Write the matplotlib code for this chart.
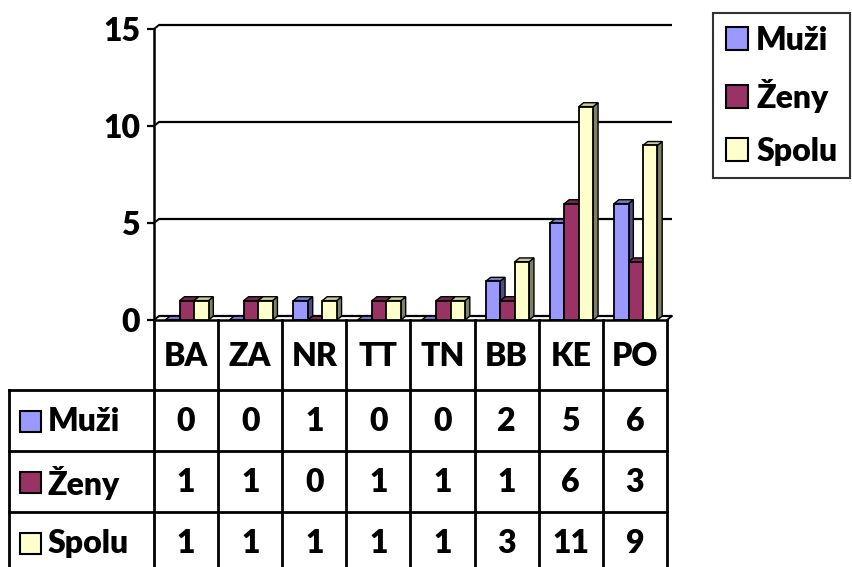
import numpy as np
import matplotlib
matplotlib.use("Agg")
import matplotlib.pyplot as plt
from matplotlib.patches import Polygon, Rectangle, Patch

# data
regions = ["BA", "ZA", "NR", "TT", "TN", "BB", "KE", "PO"]
muzi = [0, 0, 1, 0, 0, 2, 5, 6]
zeny = [1, 1, 0, 1, 1, 1, 6, 3]
spolu = [1, 1, 1, 1, 1, 3, 11, 9]
series_names = ["Muži", "Ženy", "Spolu"]
yticks = [0, 5, 10, 15]

front_colors = ["#9999FF", "#993366", "#FFFFCC"]
top_colors = ["#7A7ACC", "#7A2952", "#CCCCA3"]
side_colors = ["#4D4D80", "#4D1A33", "#808066"]

plt.rcParams['font.family'] = ['Lato', 'DejaVu Sans']
plt.rcParams['font.weight'] = 'heavy'
FS = 23
FW = "heavy"

W, H = 853, 567
fig = plt.figure(figsize=(W / 100, H / 100), dpi=100)

# layout in pixels
PL, PR, PB, PT = 154, 667, 320, 29
ax = fig.add_axes([PL / W, 1 - PB / H, (PR - PL) / W, (PB - PT) / H])
ax.set_xlim(0, len(regions))
ax.set_ylim(0, 15)

dx, dy = 0.075, 0.2  # 3d depth in data units
bw, b0 = 0.225, 0.175

# back wall gridlines and floor
for y in yticks:
    ax.plot([dx, len(regions) + dx], [y + dy, y + dy], color="black", lw=1.6,
            clip_on=False, zorder=0.5, solid_capstyle="butt")
    ax.plot([0, dx], [y, y + dy], color="black", lw=1.4, clip_on=False, zorder=0.5)
ax.plot([len(regions), len(regions) + dx], [0, dy], color="black", lw=1.4,
        clip_on=False, zorder=0.5)

x = np.arange(len(regions))
for j, vals in enumerate([muzi, zeny, spolu]):
    lefts = x + b0 + j * bw
    z = 2 + j
    for xl, v in zip(lefts, vals):
        side = [(xl + bw, 0), (xl + bw + dx, dy), (xl + bw + dx, v + dy), (xl + bw, v)]
        top = [(xl, v), (xl + bw, v), (xl + bw + dx, v + dy), (xl + dx, v + dy)]
        ax.add_patch(Polygon(side, closed=True, facecolor=side_colors[j],
                             edgecolor="black", lw=1.0, zorder=z))
        ax.add_patch(Polygon(top, closed=True, facecolor=top_colors[j],
                             edgecolor="black", lw=1.0, zorder=z))
    ax.bar(lefts, vals, width=bw, align="edge", color=front_colors[j],
           edgecolor="black", linewidth=1.3, zorder=z)

for s in ["top", "right"]:
    ax.spines[s].set_visible(False)
ax.spines["left"].set_linewidth(1.8)
ax.spines["bottom"].set_linewidth(1.8)
ax.set_xticks([])
ax.set_yticks(yticks)
ax.set_yticklabels([str(t) for t in yticks], fontsize=FS, fontweight=FW)
ax.tick_params(axis="y", length=5, width=1.6, pad=5)
ax.set_facecolor("none")

# data table (pixel overlay)
tab = fig.add_axes([0, 0, 1, 1])
tab.set_xlim(0, W)
tab.set_ylim(H, 0)
tab.axis("off")
tab.set_zorder(-1)

colw = (PR - PL) / len(regions)
label_left = 9
row_edges = [PB, 390, 451, 512, 573]
lw_t = 2.0

for i in range(len(regions) + 1):
    xe = PL + i * colw
    tab.plot([xe, xe], [PB, H + 5], color="black", lw=lw_t)
tab.plot([label_left, label_left], [row_edges[1], H + 5], color="black", lw=lw_t)
for ye in row_edges[1:4]:
    tab.plot([label_left, PR], [ye, ye], color="black", lw=lw_t)

for i, r in enumerate(regions):
    xc = PL + (i + 0.5) * colw
    tab.text(xc, (row_edges[0] + row_edges[1]) / 2 + 1, r, ha="center", va="center",
             fontsize=FS, fontweight=FW)

for k, (name, vals) in enumerate(zip(series_names, [muzi, zeny, spolu])):
    yc = (row_edges[k + 1] + row_edges[k + 2]) / 2
    tab.add_patch(Rectangle((20, yc - 10), 21, 21, facecolor=front_colors[k],
                            edgecolor="black", lw=1.5))
    tab.text(48, yc + 1, name, ha="left", va="center", fontsize=FS, fontweight=FW)
    for i, v in enumerate(vals):
        xc = PL + (i + 0.5) * colw
        tab.text(xc, yc + 1, str(v), ha="center", va="center", fontsize=FS,
                 fontweight=FW)

handles = [Patch(facecolor=c, edgecolor="black", linewidth=1.5) for c in front_colors]
leg = fig.legend(handles, series_names, loc="upper left",
                 bbox_to_anchor=(713 / W, 1 - 13 / H), frameon=True, fancybox=False,
                 edgecolor="black", fontsize=FS, handlelength=0.7, handleheight=0.7,
                 handletextpad=0.25, labelspacing=0.75, borderpad=0.4, borderaxespad=0)
leg.get_frame().set_linewidth(1.5)
for t in leg.get_texts():
    t.set_fontweight(FW)

fig.savefig("out.png", dpi=100)
